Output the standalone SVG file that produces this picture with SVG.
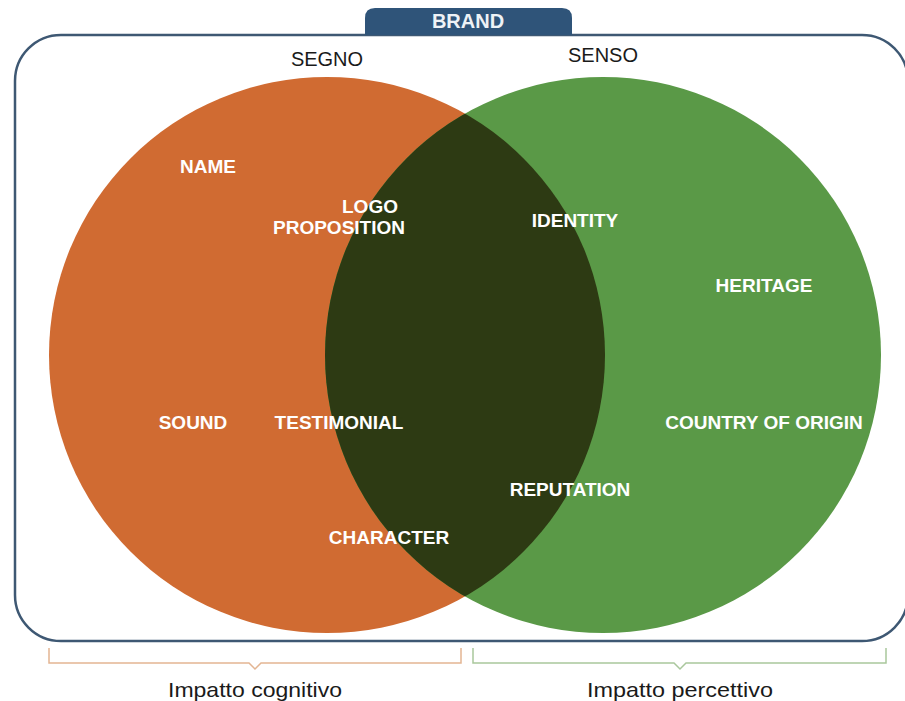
<svg xmlns="http://www.w3.org/2000/svg" width="905" height="701" viewBox="0 0 905 701">
  <style>
    .lbl { font-family: "Liberation Sans", Arial, sans-serif; font-weight: bold; font-size: 19px; fill: #ffffff; text-anchor: middle; }
    .head { font-family: "Liberation Sans", Arial, sans-serif; font-size: 20px; fill: #1a1a1a; text-anchor: middle; }
    .foot { font-family: "Liberation Sans", Arial, sans-serif; font-size: 21px; fill: #1a1a1a; text-anchor: middle; }
    .frame { fill: none; stroke: #3e5873; stroke-width: 2.5; }
    .brk { fill: none; stroke-width: 1.5; }
  </style>
  <defs>
    <clipPath id="clipGreen">
      <circle cx="603" cy="355" r="278"/>
    </clipPath>
  </defs>
  <rect width="905" height="701" fill="#ffffff"/>

  <!-- outer brand frame -->
  <g id="frame">
    <rect class="frame" x="15" y="35" width="893" height="606" rx="46" ry="46"/>
    <path d="M365,35 V18 Q365,8 375,8 H562 Q572,8 572,18 V35 Z" fill="#2f5479"/>
    <text x="468" y="28" style="font-family:'Liberation Sans',Arial,sans-serif;font-weight:bold;font-size:20px;fill:#eef2f6;text-anchor:middle">BRAND</text>
  </g>

  <!-- circles -->
  <g id="segno">
    <circle cx="327" cy="355" r="278" fill="#d06b32"/>
    <text class="head" x="327" y="66">SEGNO</text>
  </g>
  <g id="senso">
    <circle cx="603" cy="355" r="278" fill="#5a9947"/>
    <text class="head" x="603" y="62">SENSO</text>
  </g>
  <g id="overlap">
    <circle cx="327" cy="355" r="278" fill="#2d3a13" clip-path="url(#clipGreen)"/>
  </g>

  <!-- labels inside circles -->
  <g id="labels">
    <text class="lbl" x="208" y="173">NAME</text>
    <text class="lbl" x="370" y="213">LOGO</text>
    <text class="lbl" x="339" y="234">PROPOSITION</text>
    <text class="lbl" x="575" y="227">IDENTITY</text>
    <text class="lbl" x="764" y="292">HERITAGE</text>
    <text class="lbl" x="193" y="429">SOUND</text>
    <text class="lbl" x="339" y="429">TESTIMONIAL</text>
    <text class="lbl" x="764" y="429">COUNTRY OF ORIGIN</text>
    <text class="lbl" x="570" y="496">REPUTATION</text>
    <text class="lbl" x="389" y="544">CHARACTER</text>
  </g>

  <!-- impact brackets -->
  <g id="cognitivo">
    <path class="brk" stroke="#e3b592" d="M49,648 V663 H249 L255,669 L261,663 H461 V648"/>
    <text class="foot" x="255" y="697" textLength="174" lengthAdjust="spacingAndGlyphs">Impatto cognitivo</text>
  </g>
  <g id="percettivo">
    <path class="brk" stroke="#a9c79c" d="M473,648 V663 H674 L680,669 L686,663 H886 V648"/>
    <text class="foot" x="680" y="697" textLength="186" lengthAdjust="spacingAndGlyphs">Impatto percettivo</text>
  </g>
</svg>
